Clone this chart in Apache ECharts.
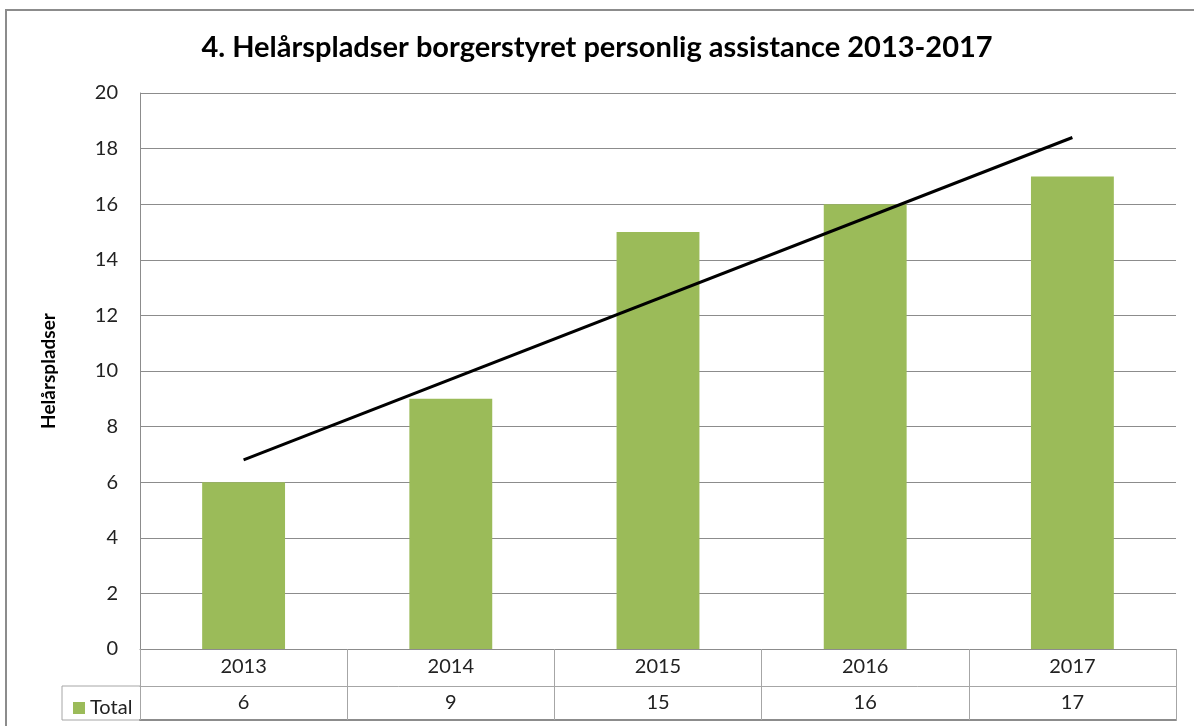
<!DOCTYPE html>
<html>
<head>
<meta charset="utf-8">
<script src="https://cdn.jsdelivr.net/npm/echarts@6/dist/echarts.min.js"></script>
<style>
html,body{margin:0;padding:0;background:#fff;}
#chart{width:1194px;height:726px;}
</style>
</head>
<body>
<div id="chart"></div>
<script>
const titleText = '4. Helårspladser borgerstyret personlig assistance 2013-2017';
const yAxisName = 'Helårspladser';
const seriesName = 'Total';
const categories = ['2013', '2014', '2015', '2016', '2017'];
const totals = [6, 9, 15, 16, 17];
const trendStart = 6.8;
const trendEnd = 18.4;

const FONT = 'Lato, "Liberation Sans", sans-serif';
const chart = echarts.init(document.getElementById('chart'));

const option = {
  animation: false,
  backgroundColor: '#fff',
  textStyle: { fontFamily: FONT },
  title: {
    text: titleText,
    left: 'center',
    top: 28,
    textStyle: { fontSize: 29, fontWeight: 'bold', color: '#000', fontFamily: FONT }
  },
  legend: {
    data: [seriesName],
    left: 68,
    top: 693,
    itemWidth: 12,
    itemHeight: 12,
    itemGap: 4,
    icon: 'rect',
    textStyle: { fontSize: 20, color: '#222', fontFamily: FONT, padding: [0, 0, 0, 0] }
  },
  grid: { left: 140, right: 18, top: 93, bottom: 77 },
  xAxis: [
    {
      type: 'category',
      data: categories,
      position: 'bottom',
      axisLine: { show: true, lineStyle: { color: '#8c8c8c', width: 1 } },
      axisTick: { show: true, length: 71, alignWithLabel: false, lineStyle: { color: '#a6a6a6', width: 1 } },
      axisLabel: { fontSize: 20, color: '#222', margin: 8, fontFamily: FONT },
      splitLine: { show: false }
    },
    {
      type: 'category',
      data: categories,
      position: 'bottom',
      offset: 37,
      axisLine: { show: true, lineStyle: { color: '#a6a6a6', width: 1 } },
      axisTick: { show: false },
      axisLabel: {
        fontSize: 20, color: '#222', margin: 7, fontFamily: FONT,
        formatter: function (v, i) { return String(totals[i]); }
      }
    },
    {
      type: 'category',
      data: categories,
      position: 'bottom',
      offset: 71,
      axisLine: { show: true, lineStyle: { color: '#8c8c8c', width: 2 } },
      axisTick: { show: false },
      axisLabel: { show: false }
    }
  ],
  yAxis: {
    type: 'value',
    min: 0,
    max: 20,
    interval: 2,
    name: yAxisName,
    nameLocation: 'middle',
    nameRotate: 90,
    nameGap: 82,
    nameTextStyle: { fontSize: 19, fontWeight: 'bold', color: '#000', fontFamily: FONT },
    axisLine: { show: true, lineStyle: { color: '#8c8c8c', width: 1 } },
    axisTick: { show: false },
    axisLabel: { fontSize: 20, color: '#222', margin: 22, fontFamily: FONT },
    splitLine: { show: true, lineStyle: { color: '#8c8c8c', width: 1 } }
  },
  series: [
    {
      name: seriesName,
      type: 'bar',
      data: totals,
      barWidth: '40%',
      itemStyle: { color: '#9bbb59' }
    },
    {
      name: 'Trend',
      type: 'line',
      data: [[0, trendStart], [categories.length - 1, trendEnd]],
      symbol: 'none',
      lineStyle: { color: '#000', width: 3 },
      z: 5
    }
  ]
};
chart.setOption(option);

// decorations: outer border and legend cell of the data table, positioned from the axes
const p0 = chart.convertToPixel({ xAxisIndex: 0, yAxisIndex: 0 }, [0, 0]);
const gridLeft = 140;
const axisY = p0[1];
chart.setOption({
  graphic: [
    {
      type: 'rect',
      shape: { x: 6, y: 10, width: 1300, height: 800 },
      style: { fill: 'none', stroke: '#8c8c8c', lineWidth: 2 },
      silent: true, z: -1
    },
    {
      type: 'polyline',
      shape: { points: [[gridLeft, axisY + 37], [62, axisY + 37], [62, axisY + 71], [gridLeft, axisY + 71]] },
      style: { fill: 'none', stroke: '#a6a6a6', lineWidth: 1 },
      silent: true
    }
  ]
});
</script>
</body>
</html>
